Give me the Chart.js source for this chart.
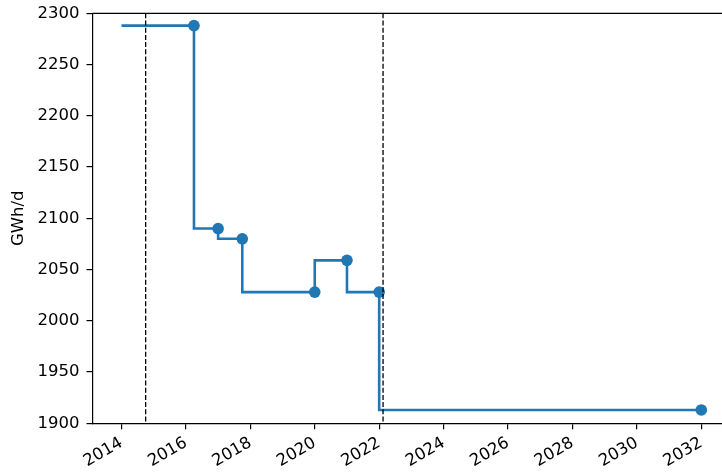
<!DOCTYPE html>
<html>
<head>
<meta charset="utf-8">
<script src="https://cdn.jsdelivr.net/npm/chart.js@4/dist/chart.umd.min.js"></script>
<style>
  html, body { margin: 0; padding: 0; overflow: hidden; background: #fff; }
  #wrap { width: 740px; height: 475px; }
</style>
</head>
<body>
<div id="wrap"><canvas id="chart" width="740" height="475"></canvas></div>
<script>
// Gas demand series (decimal years) drawn as a step line
const years = [2014.0, 2016.25, 2017.0, 2017.75, 2020.0, 2021.0, 2022.0, 2032.0];
const gwhPerDay = [2288, 2288, 2090, 2080, 2028, 2059, 2028, 1913];
// The first entry only starts the line; it carries no marker
const showMarker = [false, true, true, true, true, true, true, true];
// Dates marked with vertical dashed lines
const eventYears = [2014.75, 2022.12];
// Axis ticks
const xTickYears = [2014, 2016, 2018, 2020, 2022, 2024, 2026, 2028, 2030, 2032];
const yTickValues = [1900, 1950, 2000, 2050, 2100, 2150, 2200, 2250, 2300];

const FONT = { family: "'DejaVu Sans', sans-serif", size: 16.5 };
const BLUE = '#1f77b4';

const frameAndEvents = {
  id: 'frameAndEvents',
  afterDatasetsDraw(chart) {
    const { ctx, chartArea, scales } = chart;
    ctx.save();
    // dashed event lines
    ctx.strokeStyle = '#000';
    ctx.lineWidth = 1.3;
    ctx.setLineDash([5, 2.2]);
    eventYears.forEach(v => {
      const px = scales.x.getPixelForValue(v);
      ctx.beginPath();
      ctx.moveTo(px, chartArea.top);
      ctx.lineTo(px, chartArea.bottom);
      ctx.stroke();
    });
    // top spine
    ctx.setLineDash([]);
    ctx.lineWidth = 1.2;
    ctx.beginPath();
    ctx.moveTo(chartArea.left, chartArea.top);
    ctx.lineTo(chartArea.right, chartArea.top);
    ctx.stroke();
    ctx.restore();
  }
};

new Chart(document.getElementById('chart'), {
  type: 'line',
  data: {
    datasets: [{
      data: years.map((x, i) => ({ x: x, y: gwhPerDay[i] })),
      stepped: 'after',
      borderColor: BLUE,
      borderWidth: 2.6,
      fill: false,
      pointRadius: ctx => showMarker[ctx.dataIndex] ? 5.8 : 0,
      pointHoverRadius: ctx => showMarker[ctx.dataIndex] ? 5.8 : 0,
      pointBackgroundColor: BLUE,
      pointBorderColor: BLUE,
      pointBorderWidth: 0
    }]
  },
  options: {
    responsive: false,
    animation: false,
    events: [],
    layout: { padding: { top: 13.3, right: 9.7, left: 0, bottom: 0 } },
    plugins: { legend: { display: false }, tooltip: { enabled: false } },
    scales: {
      x: {
        type: 'linear',
        min: 2013.1,
        max: 2032.9,
        afterBuildTicks: s => { s.ticks = xTickYears.map(v => ({ value: v })); },
        afterFit: s => { s.height = 51.7; s.paddingLeft = 0; s.paddingRight = 0; },
        ticks: {
          autoSkip: false,
          minRotation: 30,
          maxRotation: 30,
          padding: 4,
          color: '#000',
          font: FONT,
          callback: v => String(v)
        },
        grid: { drawOnChartArea: false, drawTicks: true, tickLength: 6, color: '#000', lineWidth: 1.2 },
        border: { display: true, color: '#000', width: 1.2 }
      },
      y: {
        type: 'linear',
        min: 1900,
        max: 2300,
        afterBuildTicks: s => { s.ticks = yTickValues.map(v => ({ value: v })); },
        afterFit: s => { s.width = 92.5; s.paddingTop = 0; s.paddingBottom = 0; },
        ticks: {
          padding: 7,
          color: '#000',
          font: FONT,
          callback: v => String(v)
        },
        title: {
          display: true,
          text: 'GWh/d',
          color: '#000',
          font: FONT,
          padding: { top: 9, bottom: 0 }
        },
        grid: { drawOnChartArea: false, drawTicks: true, tickLength: 6, color: '#000', lineWidth: 1.2 },
        border: { display: true, color: '#000', width: 1.2 }
      }
    }
  },
  plugins: [frameAndEvents]
});
</script>
</body>
</html>
